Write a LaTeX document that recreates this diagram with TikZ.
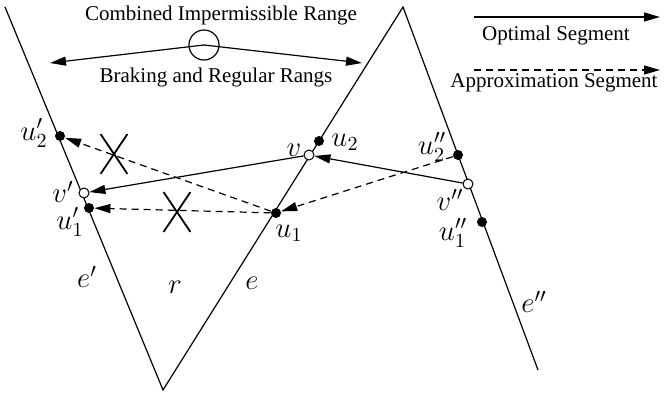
\documentclass[tikz,border=0pt]{standalone}
\usepackage{fontspec}
\setmainfont{Liberation Serif}
\usetikzlibrary{positioning, arrows.meta, shapes.misc}
\tikzset{
    edgeline/.style={line width=0.6pt, line join=miter},
    optarrow/.style={-{Triangle[length=8pt, width=4.5pt]}, line width=0.6pt},
    approxarrow/.style={optarrow, dash pattern=on 3.5pt off 2.5pt},
    fullpt/.style={circle, fill=black, inner sep=0pt, minimum size=5pt},
    openpt/.style={circle, draw=black, fill=white, line width=0.5pt, inner sep=0pt, minimum size=5pt},
    crossmark/.style={cross out, draw, line width=0.9pt, inner sep=0pt, minimum width=12.5pt, minimum height=19pt},
    lbl/.style={font=\Large},
    txt/.style={font=\fontsize{10.5}{12.6}\selectfont},
}

\begin{document}
\begin{tikzpicture}[x=0.5pt, y=-0.5pt]
                \useasboundingbox (0,0) rectangle (665,397);

                % Edges e', e, e''
                \coordinate (etop1) at (5,7);
                \coordinate (ebot) at (163,390);
                \coordinate (etop2) at (403,7);
                \coordinate (eend) at (538,370);
                \draw[edgeline] (etop1) -- (ebot) -- (etop2) -- (eend);

                % Points on the edges
                \node[fullpt] (u2p) at (60,136) {};
                \node[openpt] (vp) at (84,193) {};
                \node[fullpt] (u1p) at (89,208) {};
                \node[fullpt] (u2) at (319,141) {};
                \node[openpt] (v) at (309,155) {};
                \node[fullpt] (u1) at (276,213) {};
                \node[fullpt] (u2pp) at (458,155) {};
                \node[openpt] (vpp) at (468,184) {};
                \node[fullpt] (u1pp) at (482,222) {};

                % Optimal segments
                \draw[optarrow] (vpp) -- (v);
                \draw[optarrow] (v) -- (vp);

                % Approximation segments
                \draw[approxarrow] (u2pp) -- (u1);
                \draw[approxarrow] (u1) -- (u1p);
                \draw[approxarrow] (u1) -- (u2p);

                % Rejected ones
                \node[crossmark] (cross1) at (114,154) {};
                \node[crossmark] (cross2) at (177,212) {};

                % Labels
                \node[lbl] (lu2p) at (34,133) {$u_2'$};
                \node[lbl] (lvp) at (63,192) {$v'$};
                \node[lbl] (lu1p) at (70,222) {$u_1'$};
                \node[lbl] (lep) at (87,277) {$e'$};
                \node[lbl] (lr) at (175,287) {$r$};
                \node[lbl] (le) at (252,283) {$e$};
                \node[lbl] (lu2) at (345,142) {$u_2$};
                \node[lbl] (lv) at (294,150) {$v$};
                \node[lbl] (lu1) at (289,233) {$u_1$};
                \node[lbl] (lu2pp) at (432,147) {$u_2''$};
                \node[lbl] (lvpp) at (450,200) {$v''$};
                \node[lbl] (lu1pp) at (453,233) {$u_1''$};
                \node[lbl] (lepp) at (534,302) {$e''$};

                % Combined range
                \node[circle, draw, line width=0.6pt, inner sep=0pt, minimum size=15pt] (ring) at (204,45) {};
                \coordinate (rangeL) at (50,63);
                \coordinate (rangeR) at (362,63);
                \draw[optarrow] (ring.center) -- (rangeL);
                \draw[optarrow] (ring.center) -- (rangeR);
                \node[txt] (combined) at (221,15) {Combined Impermissible Range};
                \node[txt] (braking) at (216,77) {Braking and Regular Rangs};

                % Legend
                \coordinate (optS) at (474,17);
                \coordinate (optE) at (660,17);
                \coordinate (appS) at (474,70);
                \coordinate (appE) at (660,70);
                \draw[optarrow] (optS) -- (optE);
                \draw[approxarrow] (appS) -- (appE);
                \node[txt] (optlbl) at (556,35) {Optimal Segment};
                \node[txt] (applbl) at (554,83) {Approximation Segment};
            \end{tikzpicture}
\end{document}
